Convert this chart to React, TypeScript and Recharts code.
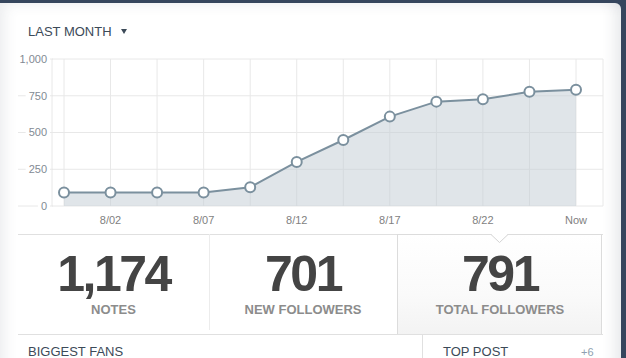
import React from 'react';
import { ComposedChart, Area, Line, XAxis, YAxis, CartesianGrid } from 'recharts';

// followers over the last month, one point every ~2.5 days
const categories = ['7/30', '8/02', '8/05', '8/07', '8/10', '8/12', '8/15', '8/17', '8/20', '8/22', '8/25', 'Now'];
const followers = [92, 92, 92, 92, 128, 300, 449, 608, 710, 726, 777, 791];
const tickLabels = ['8/02', '8/07', '8/12', '8/17', '8/22', 'Now'];
const yTicks = [0, 250, 500, 750, 1000];

const statValues = ['1,174', '701', '791'];
const statLabels = ['NOTES', 'NEW FOLLOWERS', 'TOTAL FOLLOWERS'];

const data = categories.map((c, i) => ({ date: c, followers: followers[i] }));

const FONT = 'Arial, "Liberation Sans", Helvetica, sans-serif';
const GRID = '#e8e8e8';
const LINE = '#7b909e';
const HEAD = '#3c4a58';

function textWidth(s: string) {
  let w = 0;
  for (const ch of s) w += ch === ',' ? 3.06 : 6.12;
  return w;
}

function YTick(props: any) {
  const { x, y, payload } = props;
  const label = payload.value.toLocaleString('en-US');
  const w = textWidth(label);
  return (
    <g>
      <line x1={18} x2={x + 6} y1={y} y2={y} stroke={GRID} />
      <rect x={x - w - 3} y={y - 6} width={w + 6} height={12} fill="#fff" />
      <text x={x} y={y} dy="0.35em" textAnchor="end" fontSize={11} fill="#828a93" fontFamily={FONT}>
        {label}
      </text>
    </g>
  );
}

export default function App() {
  return (
    <div style={{ position: 'absolute', left: 0, top: 0, width: 626, height: 358, background: '#36465d', overflow: 'hidden', fontFamily: FONT }}>
      <div
        style={{
          position: 'absolute', left: 0, top: 3, width: 621, height: 360, background: '#fff',
          borderTopRightRadius: 6,
          boxShadow: 'inset 14px 10px 14px -10px rgba(54,70,93,0.10), inset -16px 0 14px -10px rgba(54,70,93,0.12)',
        }}
      />

      <div style={{ position: 'absolute', left: 28, top: 25, fontSize: 13, lineHeight: '13px', color: HEAD }}>LAST MONTH</div>
      <div style={{ position: 'absolute', left: 121, top: 29, width: 0, height: 0, borderLeft: '3.5px solid transparent', borderRight: '3.5px solid transparent', borderTop: `5px solid ${HEAD}` }} />

      <div style={{ position: 'absolute', left: 0, top: 0 }}>
        <ComposedChart width={626} height={240} data={data} margin={{ top: 59, right: 23, bottom: 4, left: 18 }}>
          <CartesianGrid stroke={GRID} />
          <XAxis
            dataKey="date"
            axisLine={false}
            tickLine={false}
            tickSize={0}
            tickMargin={10}
            height={30}
            interval={0}
            padding={{ left: 12, right: 27 }}
            tick={{ fontSize: 11, fill: '#7f7f7f', fontFamily: FONT }}
            tickFormatter={(v: string) => (tickLabels.includes(v) ? v : '')}
          />
          <YAxis
            domain={[0, 1000]}
            ticks={yTicks}
            width={34}
            axisLine={false}
            tickLine={false}
            tickSize={0}
            tickMargin={5}
            tick={<YTick />}
          />
          <Area
            type="linear"
            dataKey="followers"
            stroke="none"
            fill="#c2ccd3"
            fillOpacity={0.5}
            dot={false}
            activeDot={false}
            isAnimationActive={false}
          />
          <Line
            type="linear"
            dataKey="followers"
            stroke={LINE}
            strokeWidth={2}
            dot={{ r: 5, fill: '#ffffff', fillOpacity: 1, stroke: LINE, strokeWidth: 2 }}
            activeDot={false}
            isAnimationActive={false}
          />
        </ComposedChart>
      </div>

      {/* stats strip */}
      <div style={{ position: 'absolute', left: 18, top: 234, width: 585, height: 1, background: '#e0e0e0' }} />
      <div style={{ position: 'absolute', left: 209, top: 234, width: 1, height: 96, background: '#ececec' }} />
      <div
        style={{
          position: 'absolute', left: 397, top: 234, width: 205, height: 100, boxSizing: 'border-box',
          border: '1px solid #dcdcdc', borderBottom: 'none',
          background: 'linear-gradient(to bottom, #ffffff 0%, #fafafa 60%, #f3f3f3 100%)',
        }}
      />
      <svg style={{ position: 'absolute', left: 488, top: 233 }} width={24} height={12}>
        <polygon points="3,1 11.5,9.5 20,1" fill="#fff" />
        <polyline points="3,1.5 11.5,9.5 20,1.5" fill="none" stroke="#d4d4d4" />
      </svg>
      <div style={{ position: 'absolute', left: 18, top: 334, width: 585, height: 1, background: '#e0e0e0' }} />
      <div style={{ position: 'absolute', left: 422, top: 334, width: 1, height: 30, background: '#e0e0e0' }} />

      {statValues.map((v, i) => {
        const cells = [[18, 191], [209, 188], [397, 206]];
        const [left, width] = cells[i];
        return (
          <React.Fragment key={i}>
            <div style={{ position: 'absolute', left, width, top: 249, textAlign: 'center', fontSize: 50, lineHeight: '50px', fontWeight: 'bold', letterSpacing: -2.5, color: '#444' }}>
              {v}
            </div>
            <div style={{ position: 'absolute', left, width, top: 303, textAlign: 'center', fontSize: 13, lineHeight: '13px', fontWeight: 'bold', color: '#8c8c8c' }}>
              {statLabels[i]}
            </div>
          </React.Fragment>
        );
      })}

      <div style={{ position: 'absolute', left: 28, top: 345, fontSize: 13, lineHeight: '13px', color: HEAD }}>BIGGEST FANS</div>
      <div style={{ position: 'absolute', left: 443, top: 345, fontSize: 13, lineHeight: '13px', color: HEAD }}>TOP POST</div>
      <div style={{ position: 'absolute', left: 581, top: 347, fontSize: 11, lineHeight: '11px', color: '#8e9fb0' }}>+6</div>
    </div>
  );
}
